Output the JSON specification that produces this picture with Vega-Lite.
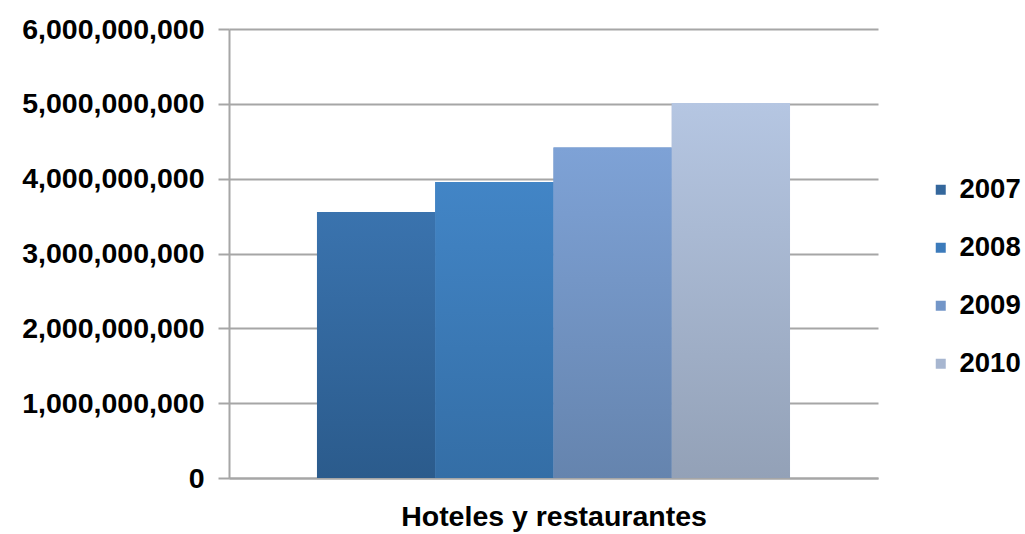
{
  "$schema": "https://vega.github.io/schema/vega-lite/v6.json",
  "width": 649,
  "height": 449,
  "autosize": {"type": "none"},
  "padding": {"left": 229, "top": 29, "right": 147, "bottom": 56},
  "background": "white",
  "data": {"values": [
    {"category": "Hoteles y restaurantes", "year": "2007", "value": 3556000000},
    {"category": "Hoteles y restaurantes", "year": "2008", "value": 3956000000},
    {"category": "Hoteles y restaurantes", "year": "2009", "value": 4415000000},
    {"category": "Hoteles y restaurantes", "year": "2010", "value": 5010000000}
  ]},
  "config": {
    "font": "Liberation Sans",
    "view": {"stroke": null}
  },
  "encoding": {
    "x": {
      "field": "year", "type": "nominal",
      "scale": {"paddingInner": 0, "paddingOuter": 0.744},
      "axis": {
        "title": "Hoteles y restaurantes",
        "labels": false, "ticks": false,
        "domainColor": "#a6a6a6", "domainWidth": 2,
        "titleFontSize": 28.5, "titleFontWeight": "bold", "titleColor": "#000000",
        "titlePadding": 24
      }
    },
    "y": {
      "field": "value", "type": "quantitative",
      "scale": {"domain": [0, 6000000000], "nice": false},
      "axis": {
        "title": null,
        "values": [0, 1000000000, 2000000000, 3000000000, 4000000000, 5000000000, 6000000000],
        "format": ",d",
        "labelFontSize": 28.5, "labelFontWeight": "bold", "labelColor": "#000000",
        "labelPadding": 14, "labelLimit": 0,
        "tickSize": 11, "tickColor": "#a6a6a6", "tickWidth": 2,
        "domainColor": "#a6a6a6", "domainWidth": 2,
        "gridColor": "#a6a6a6", "gridWidth": 2
      }
    }
  },
  "layer": [
    {
      "mark": {"type": "bar"},
      "encoding": {
        "color": {
          "field": "year", "type": "nominal",
          "scale": {"domain": ["2007", "2008", "2009", "2010"], "range": ["#34679c", "#3c7bbb", "#7396c8", "#a7b6d0"]},
          "legend": {
            "title": null,
            "orient": "none", "legendX": 698, "legendY": 147,
            "symbolType": "square", "symbolSize": 100, "symbolStrokeWidth": 0,
            "labelFontSize": 27.5, "labelFontWeight": "bold", "labelColor": "#000000",
            "labelOffset": 5, "rowPadding": 29, "labelLimit": 0
          }
        }
      }
    },
    {
      "transform": [{"filter": "datum.year == '2007'"}],
      "mark": {"type": "bar", "fill": {"gradient": "linear", "x1": 0, "y1": 0, "x2": 0, "y2": 1, "stops": [{"offset": 0, "color": "#3a73ae"}, {"offset": 1, "color": "#2b5b8c"}]}}
    },
    {
      "transform": [{"filter": "datum.year == '2008'"}],
      "mark": {"type": "bar", "fill": {"gradient": "linear", "x1": 0, "y1": 0, "x2": 0, "y2": 1, "stops": [{"offset": 0, "color": "#4285c6"}, {"offset": 1, "color": "#346ea6"}]}}
    },
    {
      "transform": [{"filter": "datum.year == '2009'"}],
      "mark": {"type": "bar", "fill": {"gradient": "linear", "x1": 0, "y1": 0, "x2": 0, "y2": 1, "stops": [{"offset": 0, "color": "#7ea2d6"}, {"offset": 1, "color": "#6584ae"}]}}
    },
    {
      "transform": [{"filter": "datum.year == '2010'"}],
      "mark": {"type": "bar", "fill": {"gradient": "linear", "x1": 0, "y1": 0, "x2": 0, "y2": 1, "stops": [{"offset": 0, "color": "#b5c6e2"}, {"offset": 1, "color": "#93a1b7"}]}}
    }
  ]
}
